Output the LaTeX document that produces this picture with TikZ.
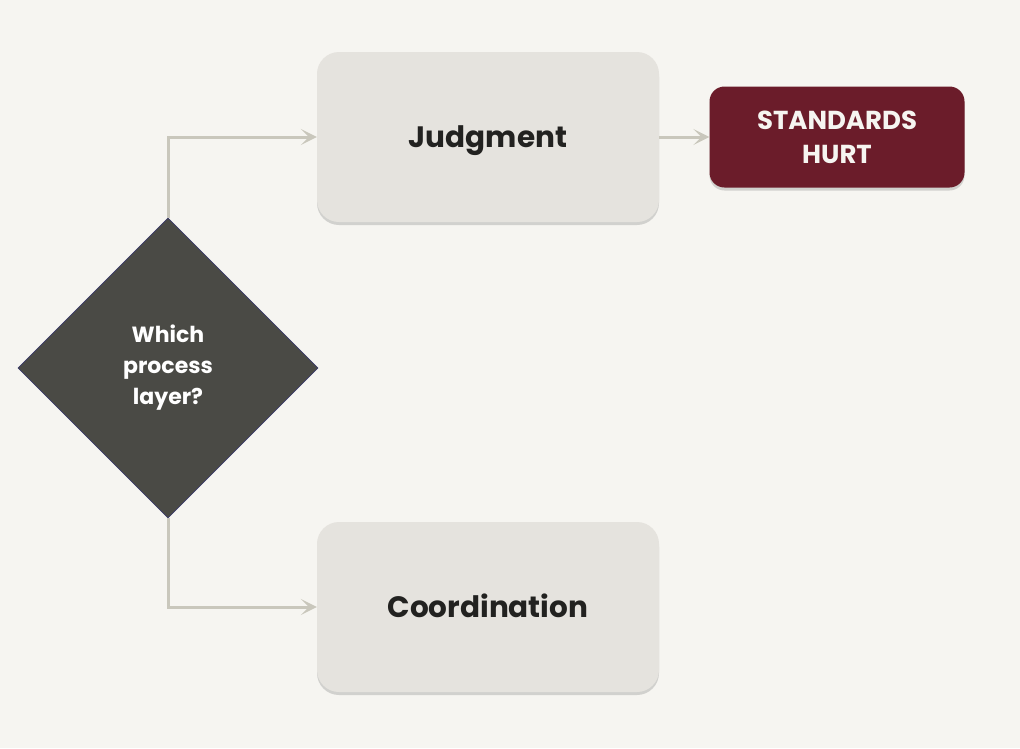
\documentclass[tikz,border=0pt]{standalone}
\usepackage{fontspec}
\setmainfont{Poppins}
\usetikzlibrary{shapes.geometric,shadows,arrows.meta}
\definecolor{paper}{HTML}{F6F5F1}
\definecolor{boxgray}{HTML}{E5E3DE}
\definecolor{slate}{HTML}{4A4A45}
\definecolor{maroon}{HTML}{6B1C2A}
\definecolor{wire}{HTML}{C9C7BC}
\definecolor{ink}{HTML}{222220}

\begin{document}
\begin{tikzpicture}[x=1pt,y=-1pt,
  layerbox/.style={rounded corners=22pt, fill=boxgray, minimum width=342pt, minimum height=170pt,
    text=ink, font=\fontsize{29.5}{34}\selectfont\bfseries, text height=20pt, text depth=0pt,
    drop shadow={shadow xshift=0pt, shadow yshift=-3pt, opacity=0.25, fill=black!60}},
  alertbox/.style={rounded corners=15pt, fill=maroon, minimum width=255pt, minimum height=101pt,
    text=paper, align=center, font=\fontsize{26}{34}\selectfont\bfseries,
    drop shadow={shadow xshift=0pt, shadow yshift=-3pt, opacity=0.25, fill=black!60}},
  choice/.style={diamond, fill=slate, draw=slate!80!blue, line width=0.6pt, inner sep=0pt,
    minimum width=300pt, minimum height=300pt, text=white, align=center,
    font=\fontsize{22}{31}\selectfont\bfseries},
  flow/.style={draw=wire, line width=3pt, -{Stealth[length=16pt,width=16pt,inset=8pt]}}]
\fill[paper] (0,0) rectangle (1020,748);
\useasboundingbox (0,0) rectangle (1020,748);
\node[choice] (q) at (168,368) {Which\\process\\layer?};
\node[layerbox] (judg) at (488,137) {Judgment};
\node[layerbox] (coord) at (488,607) {Coordination};
\node[alertbox] (hurt) at (837,137) {STANDARDS\\HURT};
% branches
\draw[flow] (q.north) |- (judg.west);
\draw[flow] (q.south) |- (coord.west);
\draw[flow] (judg.east) -- (hurt.west);
\end{tikzpicture}
\end{document}
